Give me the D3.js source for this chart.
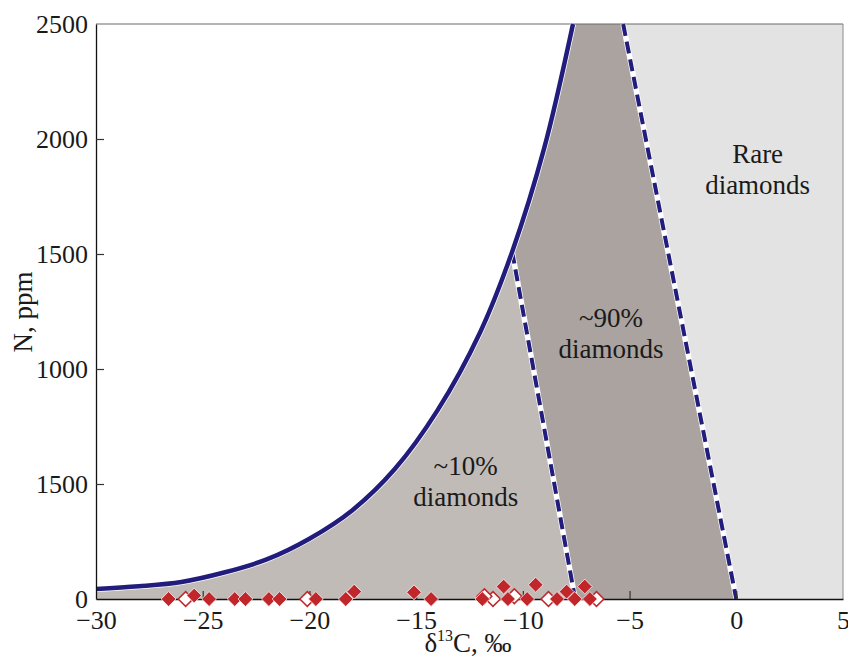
<!DOCTYPE html>
<html>
<head>
<meta charset="utf-8">
<script src="https://cdn.jsdelivr.net/npm/d3@7"></script>
<style>
  body { margin: 0; background: #fff; }
  text { font-family: "Liberation Serif", "DejaVu Serif", serif; fill: #1a1a1a; }
</style>
</head>
<body>
<svg id="chart" width="848" height="658"></svg>
<script>
// boundary curve (d13C, N ppm)
const curveX = [-30, -28, -26, -24, -22, -20, -18, -16, -14, -12, -10.5, -9, -7.65];
const curveN = [43, 55, 74, 115, 172, 262, 385, 565, 820, 1160, 1510, 1960, 2500];

// dashed separators
const dash1X = [-10.5, -7.55];
const dash1N = [1510, 0];
const dash2X = [-5.3, 0];
const dash2N = [2500, 0];

// diamond samples
const diamondX = [-26.6, -25.4, -24.7, -23.5, -23.0, -21.9, -21.4, -19.7, -18.3, -17.9, -15.1, -14.3,
                  -11.9, -10.9, -10.7, -9.8, -9.4, -8.4, -7.95, -7.57, -7.1, -6.86];
const diamondN = [0, 15, 0, 0, 0, 0, 0, 0, 0, 32, 29, 0, 0, 54, 0, 0, 62, 0, 32, 0, 54, 0];
const hollowX = [-25.8, -20.1, -11.4, -11.8, -10.4, -8.8, -6.55];
const hollowN = [0, 0, 0, 12, 12, 0, 0];

// tick labels (the original labels 500 as "1500")
const xTicks = [-30, -25, -20, -15, -10, -5, 0, 5];
const yTicks = [0, 500, 1000, 1500, 2000, 2500];
const yTickLabels = ["0", "1500", "1000", "1500", "2000", "2500"];

const labels = [
  { x: 1.0, n: 1895, lines: ["Rare", "diamonds"] },
  { x: -5.87, n: 1184, lines: ["~90%", "diamonds"] },
  { x: -12.68, n: 539, lines: ["~10%", "diamonds"] }
];

const margin = { top: 24, right: 5, bottom: 59, left: 96 };
const width = 848 - margin.left - margin.right;
const height = 658 - margin.top - margin.bottom;

const svg = d3.select("#chart");
const g = svg.append("g").attr("transform", `translate(${margin.left},${margin.top})`);

const x = d3.scaleLinear().domain([-30, 5]).range([0, width]);
const y = d3.scaleLinear().domain([0, 2500]).range([height, 0]);

const curve = curveX.map((d, i) => [d, curveN[i]]);
const split = curveX.indexOf(-10.5);
const lower = curve.slice(0, split + 1);
const upper = curve.slice(split);

const line = d3.line().x(d => x(d[0])).y(d => y(d[1])).curve(d3.curveCatmullRom.alpha(0.5));
const poly = d3.line().x(d => x(d[0])).y(d => y(d[1]));

// regions
const leftPath = line(lower) + "L" + x(dash1X[1]) + "," + y(dash1N[1]) + "L" + x(-30) + "," + y(0) + "Z";
g.append("path").attr("d", leftPath).attr("fill", "#c1bbb7");

const midPath = line(upper) + "L" + x(dash2X[0]) + "," + y(dash2N[0]) +
  "L" + x(dash2X[1]) + "," + y(dash2N[1]) + "L" + x(dash1X[1]) + "," + y(dash1N[1]) + "Z";
g.append("path").attr("d", midPath).attr("fill", "#aaa39f");

const rightPts = [[dash2X[0], 2500], [5, 2500], [5, 0], [dash2X[1], 0]];
g.append("path").attr("d", poly(rightPts) + "Z").attr("fill", "#e3e3e3");

// frame (top and right)
g.append("line").attr("x1", 0).attr("x2", width).attr("y1", 0).attr("y2", 0)
  .attr("stroke", "#6a6a6a").attr("stroke-width", 1.2);
g.append("line").attr("x1", width).attr("x2", width).attr("y1", 0).attr("y2", height)
  .attr("stroke", "#8a8a8a").attr("stroke-width", 1);

// dashed separators
[[dash1X, dash1N], [dash2X, dash2N]].forEach(([xs, ns]) => {
  const pts = xs.map((d, i) => [d, ns[i]]);
  g.append("path").attr("d", poly(pts)).attr("stroke", "#fff").attr("stroke-width", 5.5).attr("fill", "none");
  g.append("path").attr("d", poly(pts)).attr("stroke", "#221d7c").attr("stroke-width", 4)
    .attr("stroke-dasharray", "12,6").attr("fill", "none");
});

// boundary curve
g.append("path").attr("d", line(curve)).attr("fill", "none").attr("stroke", "#fff").attr("stroke-width", 6);
g.append("path").attr("d", line(curve)).attr("fill", "none").attr("stroke", "#221d7c").attr("stroke-width", 4.5);

// text labels
labels.forEach(l => {
  const t = g.append("text").attr("text-anchor", "middle").attr("font-size", 27);
  l.lines.forEach((s, i) => {
    t.append("tspan").attr("x", x(l.x)).attr("y", y(l.n) + i * 31).text(s);
  });
});

// axes
const xAxis = d3.axisBottom(x).tickValues(xTicks).tickSizeInner(-8).tickSizeOuter(0).tickPadding(12)
  .tickFormat(d => d < 0 ? "\u2212" + Math.abs(d) : d);
const yAxis = d3.axisLeft(y).tickValues(yTicks).tickSizeInner(-8).tickSizeOuter(0).tickPadding(8)
  .tickFormat((d, i) => yTickLabels[i]);

const gx = g.append("g").attr("transform", `translate(0,${height})`).call(xAxis);
const gy = g.append("g").call(yAxis);
[gx, gy].forEach(a => {
  a.select(".domain").attr("stroke", "#111").attr("stroke-width", 1.3);
  a.selectAll(".tick line").attr("stroke", "#333").attr("stroke-width", 1.2);
  a.selectAll(".tick text").attr("font-size", 26).attr("font-family", "Liberation Serif, serif").attr("fill", "#222");
});
gx.selectAll(".tick").filter(d => d === -30 || d === 5).select("line").remove();
gy.selectAll(".tick").filter(d => d === 0 || d === 2500).select("line").remove();

// diamonds
const sym = d3.symbol().type(d3.symbolSquare).size(110);
const hollow = hollowX.map((d, i) => [d, hollowN[i]]);
g.selectAll(".hollow").data(hollow).enter().append("path")
  .attr("class", "hollow")
  .attr("d", sym)
  .attr("transform", d => `translate(${x(d[0])},${y(d[1])}) rotate(45)`)
  .attr("fill", "#fff").attr("stroke", "#c0262a").attr("stroke-width", 1.5);
const diamonds = diamondX.map((d, i) => [d, diamondN[i]]);
g.selectAll(".dia").data(diamonds).enter().append("path")
  .attr("class", "dia")
  .attr("d", sym)
  .attr("transform", d => `translate(${x(d[0])},${y(d[1])}) rotate(45)`)
  .attr("fill", "#c0262a").attr("stroke", "#fff").attr("stroke-width", 0.7);

// axis titles
const xt = svg.append("text").attr("x", 468).attr("y", 652).attr("text-anchor", "middle").attr("font-size", 27);
xt.append("tspan").text("\u03b4");
xt.append("tspan").attr("font-size", 16).attr("dy", -11).text("13");
xt.append("tspan").attr("dy", 11).text("C, \u2030");

svg.append("text").attr("transform", "translate(32,312) rotate(-90)")
  .attr("text-anchor", "middle").attr("font-size", 27).text("N, ppm");
</script>
</body>
</html>
